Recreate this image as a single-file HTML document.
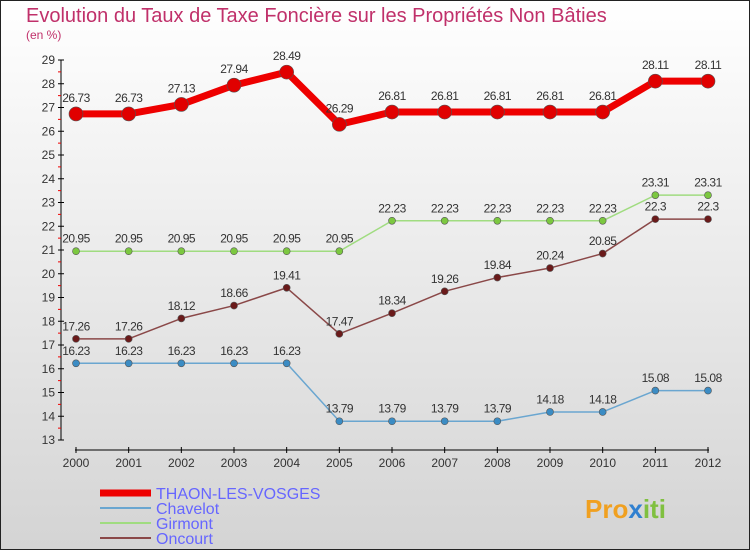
<!DOCTYPE html>
<html><head><meta charset="utf-8"><style>
body{margin:0}
svg text{font-family:"Liberation Sans",sans-serif}
</style></head><body>
<svg width="750" height="550" xmlns="http://www.w3.org/2000/svg">
<defs><linearGradient id="bg" x1="0" y1="0" x2="0" y2="1"><stop offset="0" stop-color="#ffffff"/><stop offset="1" stop-color="#d4d4d4"/></linearGradient></defs>
<rect x="0.5" y="0.5" width="749" height="549" fill="url(#bg)" stroke="#222"/>
<text x="26" y="22" font-size="20" fill="#c0306a">Evolution du Taux de Taxe Foncière sur les Propriétés Non Bâties</text>
<text x="26" y="39" font-size="12" fill="#c0306a">(en %)</text>
<g id="axes"></g>
<g id="series"></g>
<g id="legend"></g>
<g>
<text x="585" y="518" font-size="26" font-weight="bold" fill="#f0a020">Pro<tspan fill="#3080d0">x</tspan><tspan fill="#80c040">iti</tspan></text>
</g>
</svg>
<script>
const years=[2000,2001,2002,2003,2004,2005,2006,2007,2008,2009,2010,2011,2012];
const thaon=[26.73,26.73,27.13,27.94,28.49,26.29,26.81,26.81,26.81,26.81,26.81,28.11,28.11];
const chavelot=[16.23,16.23,16.23,16.23,16.23,13.79,13.79,13.79,13.79,14.18,14.18,15.08,15.08];
const girmont=[20.95,20.95,20.95,20.95,20.95,20.95,22.23,22.23,22.23,22.23,22.23,23.31,23.31];
const oncourt=[17.26,17.26,18.12,18.66,19.41,17.47,18.34,19.26,19.84,20.24,20.85,22.3,22.3];
const yTicks=[13,14,15,16,17,18,19,20,21,22,23,24,25,26,27,28,29];
const seriesNames=["THAON-LES-VOSGES","Chavelot","Girmont","Oncourt"];
const NS="http://www.w3.org/2000/svg";
const X=i=>76+i*(632/12);
const Y=v=>440-(v-13)*23.75;
function mk(tag,attrs,parent){const e=document.createElementNS(NS,tag);for(const k in attrs)e.setAttribute(k,attrs[k]);parent.appendChild(e);return e;}
const ax=document.getElementById('axes');
let l=mk('line',{x1:61,y1:Y(29),x2:61,y2:Y(13),stroke:'#000'},ax);


yTicks.forEach(t=>{
 mk('line',{x1:58,x2:64,y1:Y(t),y2:Y(t),stroke:'#000'},ax);
 if(t<29)mk('line',{x1:58,x2:61,y1:Y(t+0.5),y2:Y(t+0.5),stroke:'#e00'},ax);
 const tx=mk('text',{x:55,y:Y(t)+4,'font-size':12,'text-anchor':'end',fill:'#333'},ax);tx.textContent=t;
 
 
});
l=mk('line',{x1:X(0)-1,y1:450,x2:X(12)+1,y2:450,stroke:'#000'},ax);


years.forEach((y,i)=>{
 mk('line',{x1:X(i),x2:X(i),y1:447,y2:453,stroke:'#000'},ax);
 const tx=mk('text',{x:X(i),y:467,'font-size':12,'text-anchor':'middle',fill:'#333'},ax);tx.textContent=y;
 
 
});
const sg=document.getElementById('series');
function draw(vals,color,w,r,name,fill){
 const g=mk('g',{},sg);
 
 
 mk('polyline',{points:vals.map((v,i)=>X(i)+','+Y(v)).join(' '),fill:'none',stroke:color,'stroke-width':w,'stroke-linejoin':'round'},g);
 vals.forEach((v,i)=>{
  const c=mk('circle',{cx:X(i),cy:Y(v),r:r,fill:fill,stroke:'#555','stroke-width':0.6},g);
  
  
  const t=mk('text',{x:X(i),y:Y(v)-r-5,'font-size':12,'text-anchor':'middle',fill:'#333','letter-spacing':'-0.5'},g);
  t.textContent=String(v).replace(/\.(\d)$/,'.$10').replace('.30','.3');
  
  
 });
}
draw(chavelot,'#6aa6d0',1.5,3.5,'series-chavelot','#3b8cc4');
draw(girmont,'#a0dc80',1.5,3.5,'series-girmont','#7cc840');
draw(oncourt,'#8a4848',1.5,3.5,'series-oncourt','#6a1a1a');
draw(thaon,'#ee0000',7,7,'series-thaon','#e00000');
const lg=document.getElementById('legend');
const lc=['#ee0000','#6aa6d0','#a0dc80','#8a4848'],lw=[7,2,2,2];
seriesNames.forEach((n,i)=>{
 const y=493+i*15;
 const g=mk('g',{},lg);
 
 
 mk('line',{x1:100,x2:151,y1:y,y2:y,stroke:lc[i],'stroke-width':lw[i]},g);
 const t=mk('text',{x:156,y:y+6,'font-size':16,fill:'#6666ff'},g);t.textContent=n;
 
 
});
</script>
</body></html>
